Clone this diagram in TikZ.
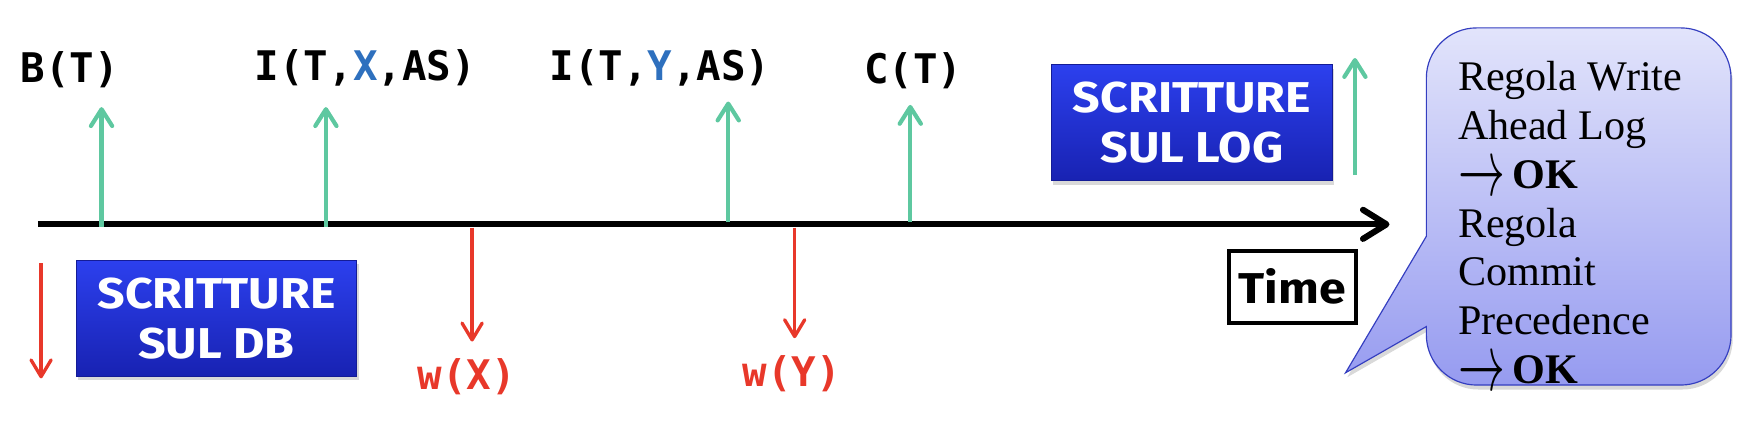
\documentclass[tikz,border=0pt]{standalone}
\usepackage{fontspec}
\setmainfont{Liberation Serif}
\newfontfamily\monof{DejaVu Sans Mono}
\newfontfamily\comicf{Fira Sans}[FakeStretch=1.12]
\usetikzlibrary{arrows.meta,shadows}
\definecolor{tgreen}{RGB}{94,200,160}
\definecolor{tred}{RGB}{232,56,42}
\definecolor{xyblue}{RGB}{46,112,190}
\definecolor{boxtop}{RGB}{44,64,238}
\definecolor{boxbot}{RGB}{24,34,178}
\definecolor{boxedge}{RGB}{20,28,150}
\definecolor{caltop}{RGB}{226,228,251}
\definecolor{calbot}{RGB}{150,155,240}
\definecolor{caledge}{RGB}{52,62,192}
\tikzset{
  timeline/.style={line width=0.11cm, -{Straight Barb[length=0.42cm,width=0.52cm,round]}},
  uparrow/.style={tgreen, line width=0.075cm, -{Straight Barb[length=0.3cm,width=0.38cm,round]}},
  downarrow/.style={tred, line width=0.06cm, -{Straight Barb[length=0.3cm,width=0.36cm,round]}},
  oplabel/.style={anchor=base west, inner sep=0pt, font=\monof\bfseries\fontsize{20.8}{24}\selectfont},
  wlabel/.style={oplabel, text=tred},
  bluebox/.style={draw=boxedge, line width=0.4pt, top color=boxtop, bottom color=boxbot,
    minimum width=5.03cm, minimum height=2.08cm, inner sep=0pt, align=center, text=white,
    font=\comicf\bfseries\fontsize{22}{25.5}\selectfont,
    drop shadow={opacity=0.3, shadow xshift=0.03cm, shadow yshift=-0.07cm}},
  timebox/.style={draw=black, line width=2pt, fill=white, minimum width=2.28cm, minimum height=1.28cm,
    inner sep=0pt, font=\comicf\bfseries\fontsize{22}{25}\selectfont},
  callout/.style={draw=caledge, line width=0.6pt, top color=caltop, bottom color=calbot,
    drop shadow={opacity=0.3, shadow xshift=0.03cm, shadow yshift=-0.08cm}},
  caltext/.style={anchor=base west, inner sep=0pt, font=\fontsize{21.5}{24.8}\selectfont}
}
\newcommand{\okarrow}{\smash{\raisebox{-3.5pt}{\scalebox{1.15}[2.0]{$\rightarrow$}}}\hspace{4pt}\textbf{OK}}
\begin{document}
\begin{tikzpicture}[x=0.02cm, y=-0.02cm]
\useasboundingbox (0,0) rectangle (1568,385);

% timeline
\coordinate (t0) at (34,201);
\coordinate (t1) at (1245,201);
\draw[timeline] (t0) -- (t1);

% labels above
\node[oplabel] (bt) at (18,74.3) {B(T)};
\node[oplabel] (ix) at (228,72) {I(T,\textcolor{xyblue}{X},AS)};
\node[oplabel] (iy) at (492,71.7) {I(T,\textcolor{xyblue}{Y},AS)};
\node[oplabel] (ct) at (774,74.6) {C(T)};

% labels below
\node[wlabel] (wx) at (374,348.6) {w(X)};
\node[wlabel] (wy) at (665,346.5) {w(Y)};

% green arrows
\coordinate (gb0) at (91,203);   \coordinate (gb1) at (91,96);
\coordinate (gx0) at (292,203);  \coordinate (gx1) at (292,96);
\coordinate (gy0) at (652.5,199); \coordinate (gy1) at (652.5,91);
\coordinate (gc0) at (815.6,199); \coordinate (gc1) at (815.6,94);
\coordinate (gl0) at (1214,157); \coordinate (gl1) at (1214,52);
\draw[uparrow] (gb0) -- (gb1);
\draw[uparrow] (gx0) -- (gx1);
\draw[uparrow] (gy0) -- (gy1);
\draw[uparrow] (gc0) -- (gc1);
\draw[uparrow] (gl0) -- (gl1);

% red arrows
\coordinate (rl0) at (36.8,236); \coordinate (rl1) at (36.8,339);
\coordinate (rx0) at (423,204);  \coordinate (rx1) at (423,306);
\coordinate (ry0) at (712,204);  \coordinate (ry1) at (712,303);
\draw[downarrow] (rl0) -- (rl1);
\draw[downarrow] (rx0) -- (rx1);
\draw[downarrow] (ry0) -- (ry1);

% blue boxes
\node[bluebox] (db) at (194,285) {SCRITTURE\\SUL DB};
\node[bluebox] (log) at (1068,110) {SCRITTURE\\SUL LOG};

% time box
\node[timebox] (time) at (1158,257) {Time};

% callout
\path[callout] (1278,211.7) [rounded corners=0.9cm] -- (1278,25) -- (1551,25) -- (1551,345) -- (1278,345) [sharp corners] -- (1278,292.6) -- (1205.6,334) -- cycle;
\node[caltext] (c1) at (1306,81.3) {Regola Write};
\node[caltext] (c2) at (1306,125) {Ahead Log};
\node[caltext] (c3) at (1306,168.7) {\okarrow};
\node[caltext] (c4) at (1306,212.4) {Regola};
\node[caltext] (c5) at (1306,256.1) {Commit};
\node[caltext] (c6) at (1306,299.8) {Precedence};
\node[caltext] (c7) at (1306,343.5) {\okarrow};
\end{tikzpicture}
\end{document}
